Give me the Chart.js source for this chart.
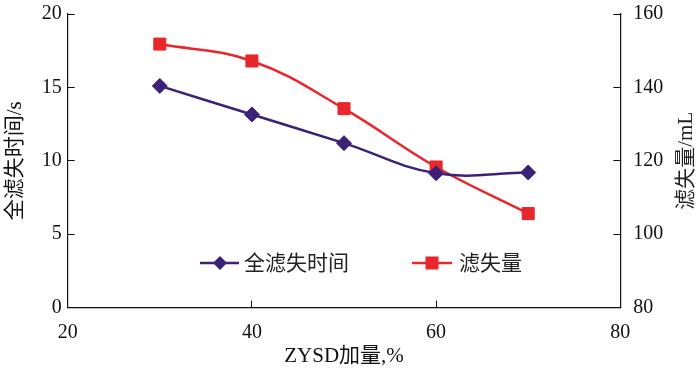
<!DOCTYPE html>
<html>
<head>
<meta charset="utf-8">
<script src="https://cdn.jsdelivr.net/npm/chart.js@4/dist/chart.umd.min.js"></script>
<style>
html,body{margin:0;padding:0;background:#fff;}
#wrap{width:700px;height:375px;}
</style>
</head>
<body>
<div id="wrap"><canvas id="c" width="700" height="375"></canvas></div>
<script>
// ---- data ----
const dosage = [30, 40, 50, 60, 70];                    // ZYSD加量, %
const filtrationTime = [15.1, 13.15, 11.2, 9.15, 9.2];  // 全滤失时间 / s
const filtrateVolume = [151.8, 147.2, 134.2, 118.3, 105.6]; // 滤失量 / mL
const seriesNames = ['全滤失时间', '滤失量'];
const xTitle = 'ZYSD加量,%';
const yLeftTitle = '全滤失时间/s';
const yRightTitle = '滤失量/mL';

const BLUE = '#3b2177';
const RED = '#e8262b';
const FONT = '"Liberation Serif", "Noto Sans CJK SC", serif';

const pts = (ys) => dosage.map((x, i) => ({x: x, y: ys[i]}));

const legendPlugin = {
  id: 'innerLegend',
  afterDraw(chart) {
    const ctx = chart.ctx;
    const y = 263;
    ctx.save();
    // series 1
    ctx.strokeStyle = BLUE; ctx.lineWidth = 2.5;
    ctx.beginPath(); ctx.moveTo(200, y); ctx.lineTo(239, y); ctx.stroke();
    ctx.fillStyle = BLUE;
    ctx.beginPath(); ctx.moveTo(220, y - 7); ctx.lineTo(227, y); ctx.lineTo(220, y + 7); ctx.lineTo(213, y); ctx.closePath(); ctx.fill();
    // series 2
    ctx.strokeStyle = RED;
    ctx.beginPath(); ctx.moveTo(412, y); ctx.lineTo(452, y); ctx.stroke();
    ctx.fillStyle = RED;
    ctx.fillRect(432 - 6.5, y - 6.5, 13, 13);
    ctx.fillStyle = '#222';
    ctx.font = '21px ' + FONT;
    ctx.textBaseline = 'middle';
    ctx.textAlign = 'left';
    ctx.fillText(seriesNames[0], 244, y + 1);
    ctx.fillText(seriesNames[1], 459, y + 1);
    // right axis title (reads bottom to top)
    const ca = chart.chartArea;
    ctx.translate(686, (ca.top + ca.bottom) / 2);
    ctx.rotate(-Math.PI / 2);
    ctx.textAlign = 'center';
    ctx.font = '21px ' + FONT;
    ctx.fillText(yRightTitle, 0, 0);
    ctx.restore();
  }
};

new Chart(document.getElementById('c'), {
  type: 'line',
  data: {
    datasets: [
      {
        label: seriesNames[0], data: pts(filtrationTime), yAxisID: 'y',
        borderColor: BLUE, backgroundColor: BLUE, borderWidth: 2.5,
        pointStyle: 'rectRot', pointRadius: 7.5, pointBorderWidth: 1,
        tension: 0.4
      },
      {
        label: seriesNames[1], data: pts(filtrateVolume), yAxisID: 'y1',
        borderColor: RED, backgroundColor: RED, borderWidth: 2.5,
        pointStyle: 'rect', pointRadius: 8.5, pointBorderWidth: 1,
        tension: 0.4
      }
    ]
  },
  options: {
    responsive: false,
    animation: false,
    layout: {padding: {top: 14, left: 0, right: 0, bottom: 0}},
    plugins: {legend: {display: false}, tooltip: {enabled: false}},
    scales: {
      x: {
        type: 'linear', position: 'bottom', min: 20, max: 80,
        ticks: {stepSize: 20, color: '#111', font: {family: FONT, size: 20}, padding: 20},
        grid: {drawOnChartArea: false, tickLength: -7, color: '#111', lineWidth: 1},
        border: {color: '#111', width: 1.2},
        title: {display: true, text: xTitle, color: '#111', font: {family: FONT, size: 21}, padding: {top: 0, bottom: 6}},
        afterFit(s) { s.height = 67.5; s.paddingLeft = 0; s.paddingRight = 0; }
      },
      y: {
        position: 'left', min: 0, max: 20,
        ticks: {stepSize: 5, color: '#111', font: {family: FONT, size: 20}, padding: 13},
        grid: {drawOnChartArea: false, tickLength: -7, color: '#111', lineWidth: 1},
        border: {color: '#111', width: 1.2},
        title: {display: true, text: yLeftTitle, color: '#111', font: {family: FONT, size: 21}, padding: {top: 3, bottom: 0}},
        afterFit(s) { s.width = 67.7; s.paddingTop = 0; s.paddingBottom = 0; }
      },
      y1: {
        position: 'right', min: 80, max: 160,
        ticks: {stepSize: 20, color: '#111', font: {family: FONT, size: 20}, padding: 20},
        grid: {drawOnChartArea: false, tickLength: -7, color: '#111', lineWidth: 1},
        border: {color: '#111', width: 1.2},
        title: {display: false},
        afterFit(s) { s.width = 79.7; s.paddingTop = 0; s.paddingBottom = 0; }
      }
    }
  },
  plugins: [legendPlugin]
});
</script>
</body>
</html>
